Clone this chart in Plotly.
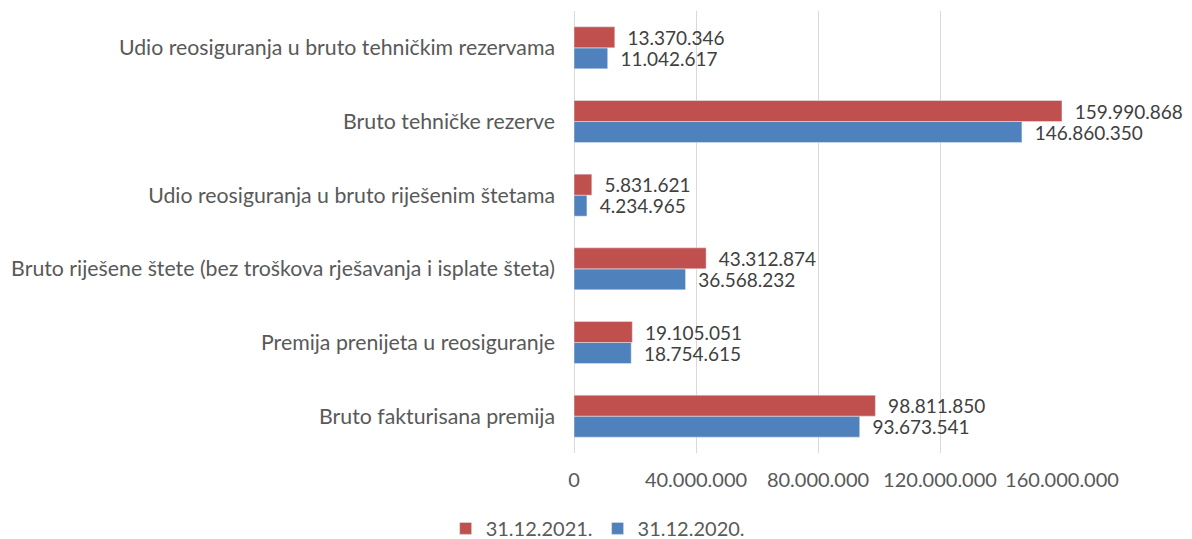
import plotly.graph_objects as go

categories = [
    "Bruto fakturisana premija",
    "Premija prenijeta u reosiguranje",
    "Bruto riješene štete (bez troškova rješavanja i isplate šteta)",
    "Udio reosiguranja u bruto riješenim štetama",
    "Bruto tehničke rezerve",
    "Udio reosiguranja u bruto tehničkim rezervama",
]
values_2021 = [98811850, 19105051, 43312874, 5831621, 159990868, 13370346]
values_2020 = [93673541, 18754615, 36568232, 4234965, 146860350, 11042617]
tick_values = [0, 40000000, 80000000, 120000000, 160000000]
tick_labels = ["0", "40.000.000", "80.000.000", "120.000.000", "160.000.000"]

FONT = "Lato"
GRAY = "#595959"
NUM = 20
LBL = 19

fig = go.Figure()
fig.add_trace(go.Bar(
    y=categories, x=values_2020, orientation="h", name="31.12.2020.",
    marker=dict(color="#4F81BD"), legendrank=2,
    texttemplate="\u00a0\u00a0%{x:,}", textposition="outside",
    constraintext="none", cliponaxis=False,
    textfont=dict(family=FONT, size=LBL, color="#404040"),
))
fig.add_trace(go.Bar(
    y=categories, x=values_2021, orientation="h", name="31.12.2021.",
    marker=dict(color="#C0504D"), legendrank=1,
    texttemplate="\u00a0\u00a0%{x:,}", textposition="outside",
    constraintext="none", cliponaxis=False,
    textfont=dict(family=FONT, size=LBL, color="#404040"),
))

fig.update_layout(
    width=1184, height=531,
    margin=dict(l=564, r=130, t=3, b=86),
    paper_bgcolor="white", plot_bgcolor="white",
    separators=",.",
    barmode="group", bargap=0.43, bargroupgap=0,
    font=dict(family=FONT, size=NUM, color=GRAY),
    showlegend=True,
    legend=dict(orientation="h", xref="container", yref="container",
                x=0.498, xanchor="center", y=0.02, yanchor="middle",
                font=dict(family=FONT, size=NUM, color=GRAY),
                itemwidth=30, traceorder="normal"),
    xaxis=dict(range=[0, 160000000], tickvals=tick_values, ticktext=tick_labels,
               showgrid=True, gridcolor="#D9D9D9", gridwidth=1,
               zeroline=True, zerolinecolor="#D9D9D9", zerolinewidth=1,
               showline=False, ticks="", ticklabelstandoff=13,
               tickfont=dict(family=FONT, size=NUM, color=GRAY)),
    yaxis=dict(showgrid=False, showline=False, ticks="", ticklabelstandoff=18,
               tickfont=dict(family=FONT, size=21.3, color=GRAY)),
)

fig.write_html("out.html")
